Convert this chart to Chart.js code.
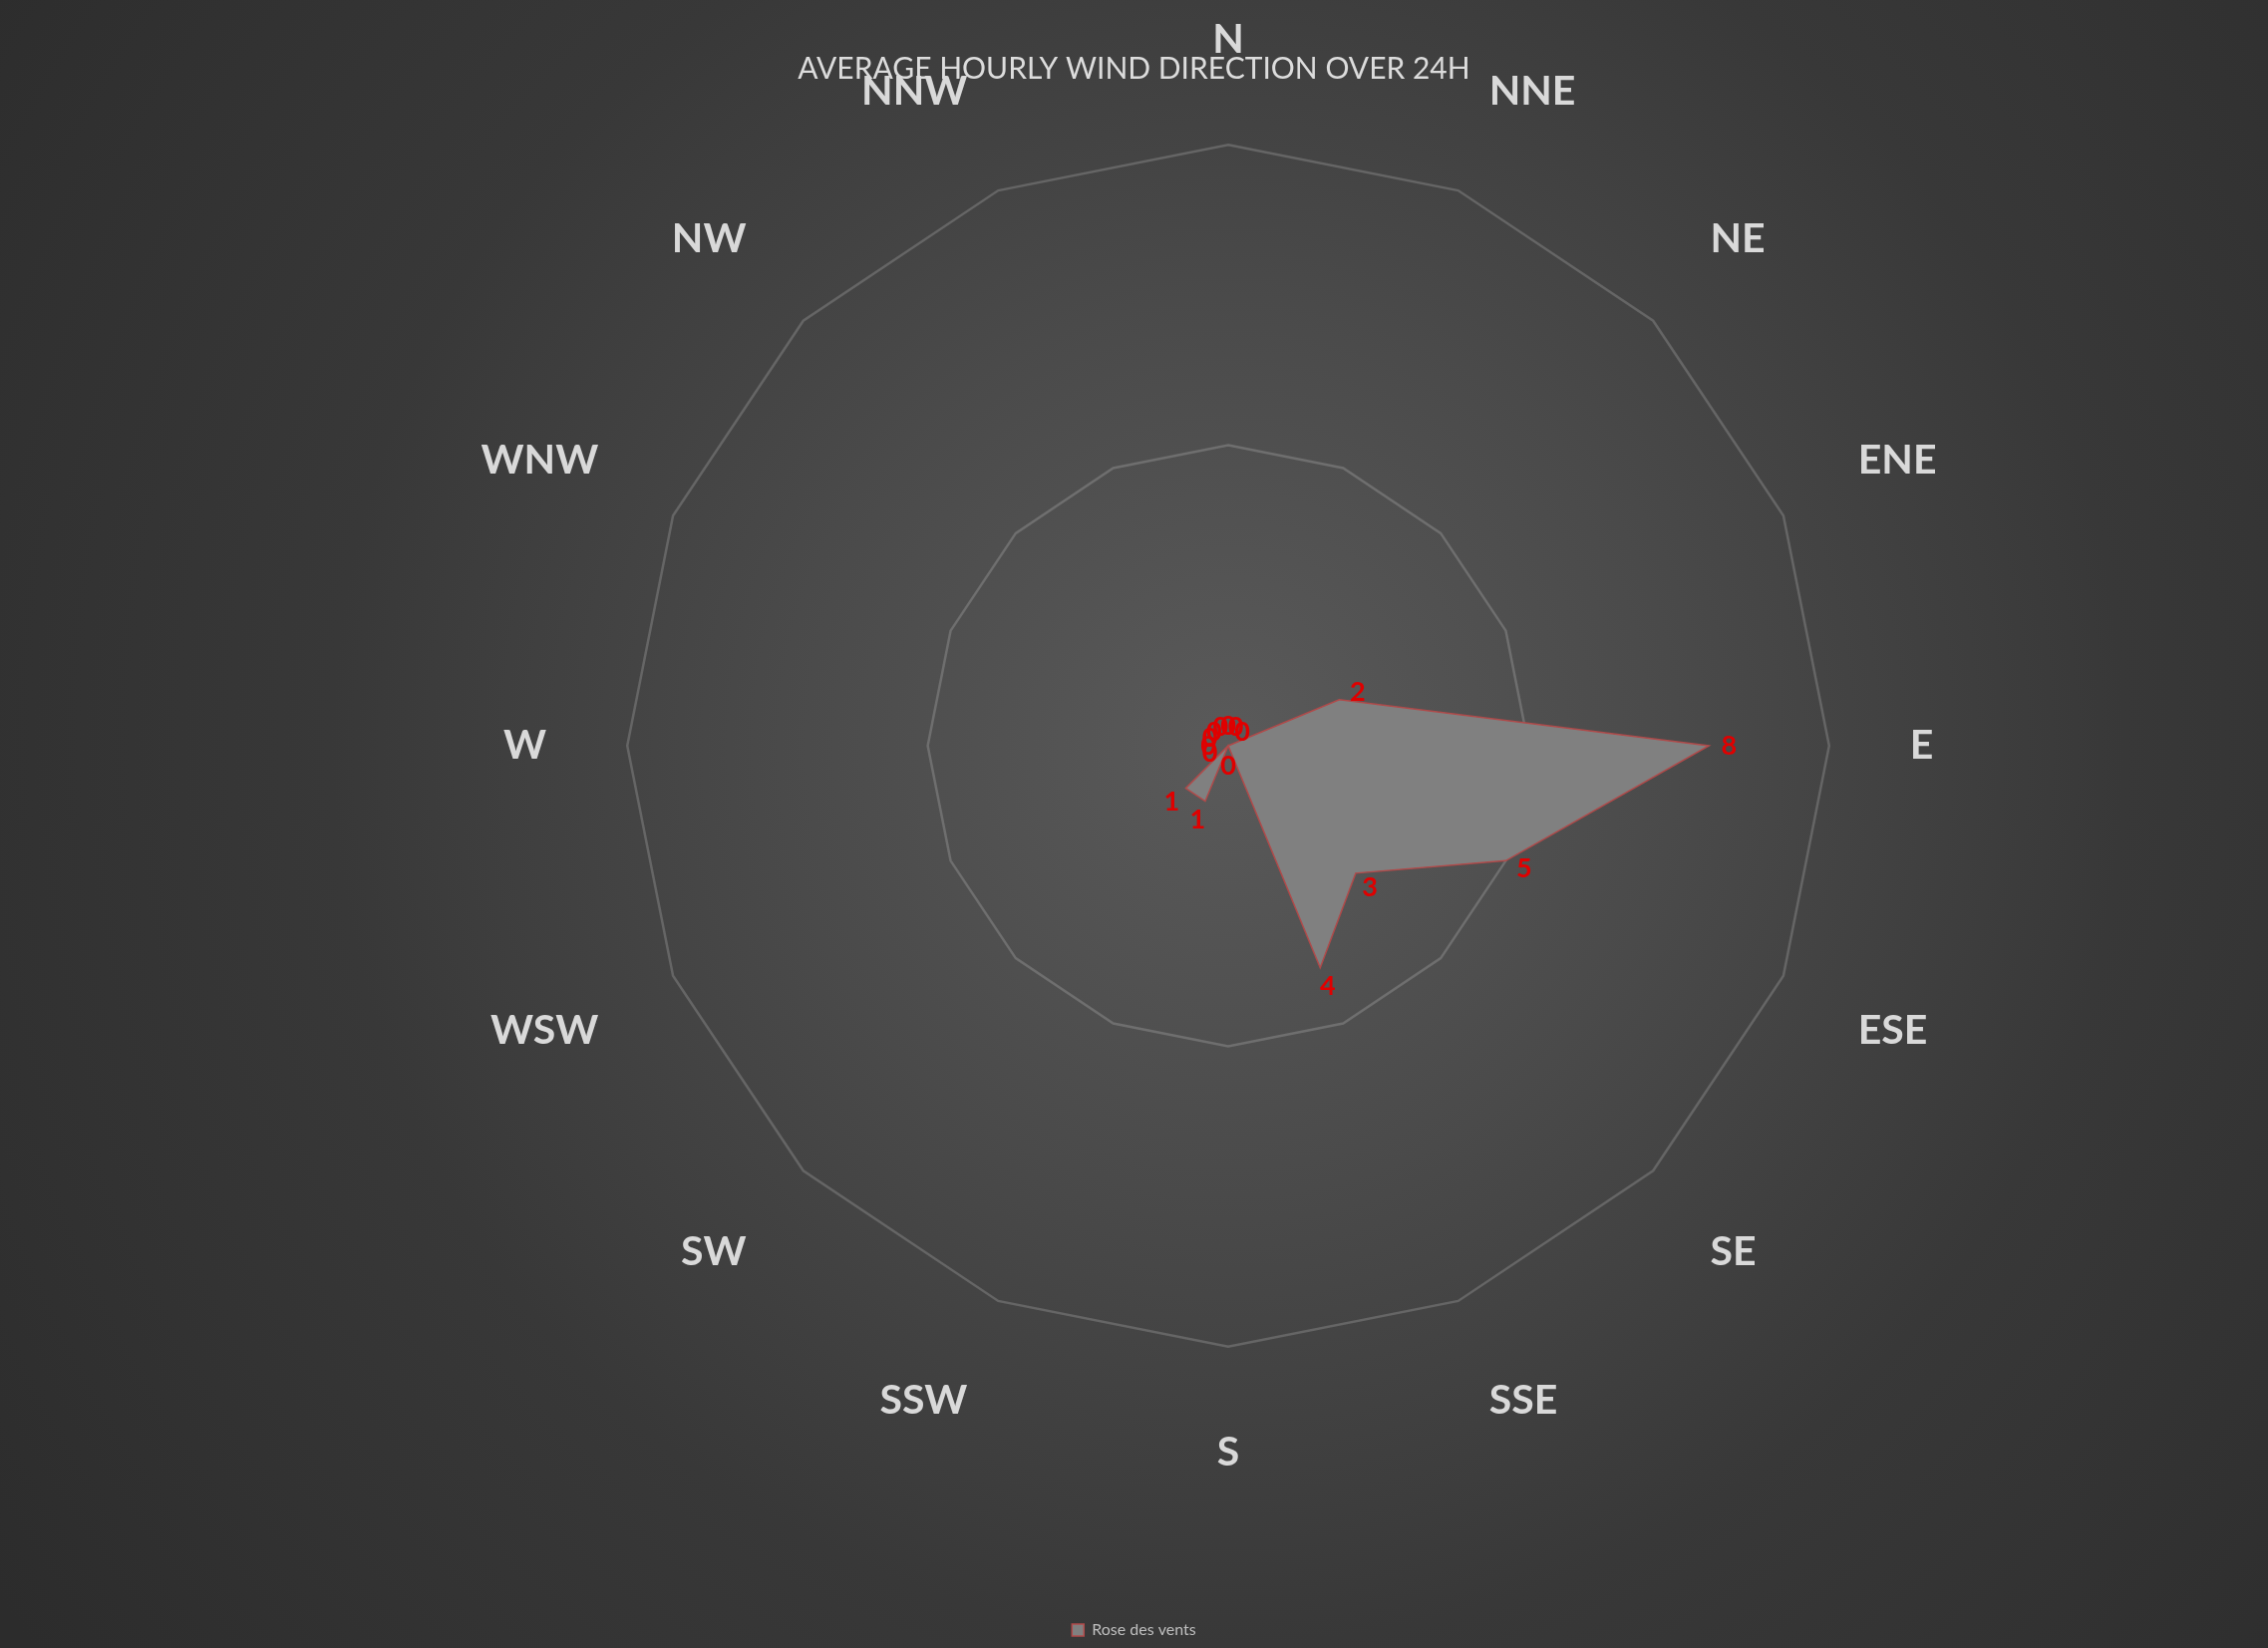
<!DOCTYPE html>
<html>
<head>
<meta charset="utf-8">
<script src="https://cdn.jsdelivr.net/npm/chart.js@4.4.0/dist/chart.umd.min.js"></script>
<style>
  html, body { margin: 0; padding: 0; }
  body {
    width: 2275px; height: 1653px; overflow: hidden;
    background: radial-gradient(circle at 1232px 749px, #5a5a5a 0px, #4a4a4a 450px, #383838 900px, #2c2c2c 1500px);
  }
  canvas { display: block; }
</style>
</head>
<body>
<canvas id="rose" width="2275" height="1653"></canvas>
<script>
// Rose des vents - moyenne horaire sur 24h
const directions = ['N', 'NNE', 'NE', 'ENE', 'E', 'ESE', 'SE', 'SSE', 'S', 'SSW', 'SW', 'WSW', 'W', 'WNW', 'NW', 'NNW'];
const hoursPerDirection = [0, 0, 0, 2, 8, 5, 3, 4, 0, 1, 1, 0, 0, 0, 0, 0];
const ringTicks = [0, 5, 10];

const chartTitle = 'AVERAGE HOURLY WIND DIRECTION OVER 24H';
const seriesName = 'Rose des vents';

// étiquettes de valeur en rouge, un peu en dehors de chaque point
const valueLabels = {
    id: 'valueLabels',
    afterDatasetsDraw(chart) {
        const scale = chart.scales.r;
        const ctx = chart.ctx;
        ctx.save();
        ctx.font = 'bold 27px Lato';
        ctx.fillStyle = '#e00000';
        ctx.textAlign = 'center';
        ctx.textBaseline = 'middle';
        hoursPerDirection.forEach((v, i) => {
            const p = scale.getPointPosition(i, scale.getDistanceFromCenterForValue(v) + 20);
            ctx.fillText(String(v), p.x, p.y);
        });
        ctx.restore();
    }
};

new Chart(document.getElementById('rose'), {
    type: 'radar',
    data: {
        labels: directions,
        datasets: [{
            label: seriesName,
            data: hoursPerDirection,
            backgroundColor: '#808080',
            borderColor: '#b04a4a',
            borderWidth: 1.5,
            pointRadius: 0,
            fill: true
        }]
    },
    options: {
        responsive: false,
        animation: false,
        layout: { padding: { top: 15, left: 0, right: 0, bottom: 0 } },
        scales: {
            r: {
                min: ringTicks[0],
                max: ringTicks[ringTicks.length - 1],
                ticks: { stepSize: ringTicks[1] - ringTicks[0], display: false },
                grid: { color: 'rgba(255,255,255,0.18)', lineWidth: 2.5 },
                angleLines: { display: false },
                pointLabels: {
                    color: '#d9d9d9',
                    padding: 81,
                    font: { family: 'Lato', size: 41, weight: 'bold' }
                }
            },
            // espace vide à gauche pour décaler le radar vers la droite
            spacer: {
                type: 'linear',
                position: 'left',
                min: 0,
                max: 1,
                grid: { display: false },
                ticks: { display: false },
                border: { display: false },
                afterFit: (s) => { s.width = 190; }
            }
        },
        plugins: {
            title: {
                display: true,
                text: chartTitle,
                color: '#dcdcdc',
                font: { family: 'Lato', size: 30, weight: 'normal' },
                padding: { top: 36, bottom: -72 }
            },
            legend: {
                position: 'bottom',
                title: { display: true, text: '', padding: { top: 120.6, bottom: 0 } },
                labels: {
                    color: '#bfbfbf',
                    boxWidth: 12,
                    boxHeight: 12,
                    padding: 10,
                    font: { family: 'Lato', size: 16 }
                }
            },
            tooltip: { enabled: false }
        }
    },
    plugins: [valueLabels]
});
</script>
</body>
</html>
